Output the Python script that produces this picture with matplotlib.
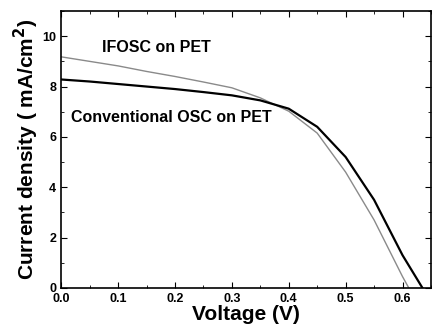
import numpy as np
import matplotlib
matplotlib.use('Agg')
import matplotlib.pyplot as plt
from matplotlib.ticker import MultipleLocator, FormatStrFormatter

plt.rcParams['font.family'] = ['Liberation Sans', 'DejaVu Sans']
plt.rcParams['font.weight'] = 'bold'

# J-V data
v_conv = [0.0, 0.05, 0.1, 0.15, 0.2, 0.25, 0.3, 0.35, 0.4, 0.45, 0.5, 0.55, 0.6, 0.635]
j_conv = [8.28, 8.2, 8.1, 8.0, 7.9, 7.78, 7.65, 7.45, 7.12, 6.4, 5.2, 3.5, 1.3, 0.0]
v_if = [0.0, 0.05, 0.1, 0.15, 0.2, 0.25, 0.3, 0.35, 0.4, 0.45, 0.5, 0.55, 0.6, 0.611]
j_if = [9.18, 9.0, 8.82, 8.6, 8.4, 8.18, 7.95, 7.55, 7.02, 6.15, 4.6, 2.7, 0.45, 0.0]

fig, ax = plt.subplots(figsize=(4.34, 3.34), dpi=100)
fig.subplots_adjust(left=0.141, right=0.993, top=0.967, bottom=0.138)

ax.plot(v_if, j_if, color='#8a8a8a', lw=1.0)
ax.plot(v_conv, j_conv, color='black', lw=1.6)

ax.text(0.072, 9.56, 'IFOSC on PET', fontsize=11.5, fontweight='bold', va='center')
ax.text(0.018, 6.77, 'Conventional OSC on PET', fontsize=11.5, fontweight='bold', va='center')

ax.set_xlim(0, 0.65)
ax.set_ylim(0, 11)
ax.xaxis.set_major_locator(MultipleLocator(0.1))
ax.xaxis.set_minor_locator(MultipleLocator(0.05))
ax.yaxis.set_major_locator(MultipleLocator(2))
ax.yaxis.set_minor_locator(MultipleLocator(1))
ax.xaxis.set_major_formatter(FormatStrFormatter('%.1f'))
ax.tick_params(which='both', direction='in', top=True, right=True, labelsize=9)
ax.tick_params(which='major', length=4)
ax.tick_params(which='minor', length=2)
for s in ax.spines.values():
    s.set_linewidth(1.2)

ax.set_xlabel('Voltage (V)', fontsize=15, fontweight='bold', labelpad=0)
ax.set_ylabel('Current density ( mA/cm$^\\mathbf{2}$)', fontsize=15, fontweight='bold', labelpad=1)

fig.savefig('out.png', dpi=100)
